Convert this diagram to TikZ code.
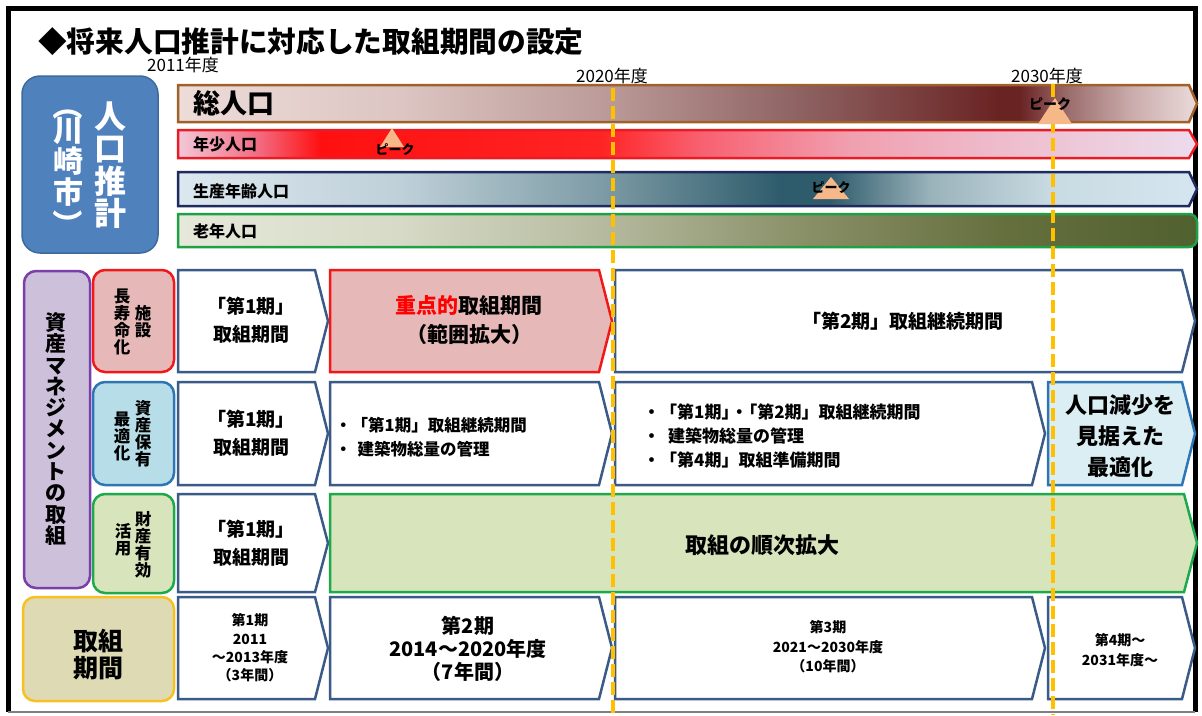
\documentclass[tikz,border=0pt]{standalone}
\usepackage{fontspec}
\setmainfont{Noto Sans CJK JP}
\newcommand{\fz}[2]{\fontsize{#1}{#2}\selectfont}
% colours
\definecolor{popblue}{HTML}{4F81BD}
\definecolor{popblueD}{HTML}{3D6A9E}
\definecolor{purpF}{HTML}{CCC0DA}
\definecolor{purpD}{HTML}{7A3FA8}
\definecolor{redF}{HTML}{E6B9B8}
\definecolor{redD}{HTML}{F01818}
\definecolor{bluF}{HTML}{B7DEE8}
\definecolor{bluD}{HTML}{2E75B6}
\definecolor{bluF2}{HTML}{DAEEF3}
\definecolor{grnF}{HTML}{D7E4BC}
\definecolor{grnD}{HTML}{1DAA4A}
\definecolor{kikanF}{HTML}{DEDBB4}
\definecolor{goldD}{HTML}{F8C020}
\definecolor{navyB}{HTML}{3A5A88}
\definecolor{dashc}{HTML}{FFC000}
\definecolor{hlred}{HTML}{FF0000}
\definecolor{peakF}{HTML}{F7B889}
\definecolor{totD}{HTML}{A0602A}
\definecolor{youD}{HTML}{E81C24}
\definecolor{worD}{HTML}{1F2A5E}
\definecolor{oldD}{HTML}{20A045}
% total population
\definecolor{tA}{HTML}{EDDCD8}
\definecolor{tB}{HTML}{DCC5C2}
\definecolor{tC}{HTML}{BC9C9A}
\definecolor{tD}{HTML}{8E6262}
\definecolor{tE}{HTML}{6A2323}
\definecolor{tF}{HTML}{9E7070}
\definecolor{tG}{HTML}{C9AAAA}
\definecolor{tH}{HTML}{EBDADA}
% young
\definecolor{yA}{HTML}{F2C8D8}
\definecolor{yB}{HTML}{F26A80}
\definecolor{yC}{HTML}{FF1010}
\definecolor{yD}{HTML}{FF2424}
\definecolor{yE}{HTML}{F86070}
\definecolor{yF}{HTML}{F0A0B0}
\definecolor{yG}{HTML}{EEBCCC}
\definecolor{yH}{HTML}{ECDCEC}
% working
\definecolor{wA}{HTML}{DCE8F0}
\definecolor{wB}{HTML}{BFD0D8}
\definecolor{wC}{HTML}{7E9CA6}
\definecolor{wD}{HTML}{2F5C6C}
\definecolor{wE}{HTML}{9AB2BA}
\definecolor{wF}{HTML}{C8DAE2}
\definecolor{wG}{HTML}{D6E6F0}
% old
\definecolor{oA}{HTML}{E6E9DA}
\definecolor{oB}{HTML}{D6DAC6}
\definecolor{oC}{HTML}{B6BBA0}
\definecolor{oD}{HTML}{8A9068}
\definecolor{oE}{HTML}{66703F}
\definecolor{oF}{HTML}{50602E}
\pgfdeclarehorizontalshading{shTot}{100bp}{color(0bp)=(tA); color(25bp)=(tA); color(35.9bp)=(tB); color(45.7bp)=(tC); color(55.5bp)=(tD); color(65.3bp)=(tE); color(66.3bp)=(tE); color(68.8bp)=(tF); color(71.7bp)=(tG); color(75bp)=(tH); color(100bp)=(tH)}
\pgfdeclarehorizontalshading{shYou}{100bp}{color(0bp)=(yA); color(25bp)=(yA); color(29bp)=(yB); color(32bp)=(yC); color(45.7bp)=(yD); color(50.6bp)=(yE); color(58bp)=(yF); color(65.3bp)=(yG); color(75bp)=(yH); color(100bp)=(yH)}
\pgfdeclarehorizontalshading{shWor}{100bp}{color(0bp)=(wA); color(25bp)=(wA); color(35.9bp)=(wB); color(45.7bp)=(wC); color(54.5bp)=(wD); color(57bp)=(wD); color(61.9bp)=(wE); color(67.8bp)=(wF); color(75bp)=(wG); color(100bp)=(wG)}
\pgfdeclarehorizontalshading{shOld}{100bp}{color(0bp)=(oA); color(25bp)=(oA); color(35.9bp)=(oB); color(45.7bp)=(oC); color(55.5bp)=(oD); color(65.3bp)=(oE); color(75bp)=(oF); color(100bp)=(oF)}
% chevron (home plate) shape
\newcommand{\chevron}[6]{\path[#1] (#2,#3) -- ({#4-#6},#3) -- (#4,{(#3+#5)/2}) -- ({#4-#6},#5) -- (#2,#5) -- cycle;}
\newcommand{\popbar}[4]{\path[shade, shading=#1, draw=#2, line width=2.5pt, line join=miter] (178,#3) -- (1189,#3) -- (1197,{(#3+#4)/2}) -- (1189,#4) -- (178,#4) -- cycle;}
\begin{document}
\begin{tikzpicture}[x=1pt,y=-1pt,
  chv/.style={line width=2.5pt, draw=navyB, fill=white, line join=miter},
  lbl/.style={line width=2.5pt, rounded corners=12pt},
  txt/.style={inner sep=0pt, align=center},
  dashln/.style={draw=dashc, line width=4.5pt, dash pattern=on 13pt off 5pt},
  peak/.style={fill=peakF, draw=none}]
\useasboundingbox (0,0) rectangle (1202,715);
\fill[white] (0,0) rectangle (1202,715);
% frame
\draw[line width=5pt, line join=miter] (8,712) -- (8,8) -- (1195,8) -- (1195,712);
\draw[line width=1.5pt, gray] (8,712) -- (1195,712);
% title
\node[anchor=west, inner sep=0pt, font=\bfseries\fz{28.7}{30}] (title) at (38,42) {◆将来人口推計に対応した取組期間の設定};
\node[inner sep=0pt, font=\fz{17}{19}] (y2011) at (183,65) {2011年度};
\node[inner sep=0pt, font=\fz{17}{19}] (y2020) at (612,76) {2020年度};
\node[inner sep=0pt, font=\fz{17}{19}] (y2030) at (1047,76) {2030年度};
% population estimate box
\draw[fill=popblue, draw=popblueD, line width=1.5pt, rounded corners=18pt] (22,76) rectangle (158,253);
\node[txt, text=white, font=\bfseries\fz{32}{32.5}] (jinko) at (110,165) {人\\口\\推\\計};
\node[txt, text=white, font=\bfseries\fz{30}{31}] (kawa) at (68,162) {川\\崎\\市};
\node[txt, text=white, rotate=-90, font=\bfseries\fz{30}{31}] (parA) at (68,105) {（};
\node[txt, text=white, rotate=-90, font=\bfseries\fz{30}{31}] (parB) at (68,224) {）};
% population bars
\popbar{shTot}{totD}{85}{122}
\popbar{shYou}{youD}{130}{158}
\popbar{shWor}{worD}{172}{206}
\path[shade, shading=shOld, draw=oldD, line width=2.5pt] (178,214) -- (1180,214) [rounded corners=8pt] -- (1197,214) -- (1197,247) -- (1180,247) [sharp corners] -- (178,247) -- cycle;
\node[anchor=west, inner sep=0pt, font=\bfseries\fz{27}{29}] (tot) at (193,103) {総人口};
\node[anchor=west, inner sep=0pt, font=\bfseries\fz{16}{18}] (you) at (193,144) {年少人口};
\node[anchor=west, inner sep=0pt, font=\bfseries\fz{16}{18}] (wor) at (193,191) {生産年齢人口};
\node[anchor=west, inner sep=0pt, font=\bfseries\fz{16}{18}] (old) at (193,231) {老年人口};
% left label boxes
\draw[lbl, fill=purpF, draw=purpD] (24,271) rectangle (90,588);
\node[txt, font=\bfseries\fz{21}{21.3}] (shisan) at (56,429) {資\\産\\マ\\ネ\\ジ\\メ\\ン\\ト\\の\\取\\組};
\draw[lbl, fill=redF, draw=redD] (93,270) rectangle (174,372);
\node[txt, font=\bfseries\fz{16.5}{17}] (c1a) at (143,322) {施\\設};
\node[txt, font=\bfseries\fz{16.5}{17}] (c1b) at (122,322) {長\\寿\\命\\化};
\draw[lbl, fill=bluF, draw=bluD] (93,382) rectangle (174,485);
\node[txt, font=\bfseries\fz{16.5}{17}] (c2a) at (143,434) {資\\産\\保\\有};
\node[txt, font=\bfseries\fz{16.5}{17}] (c2b) at (122,436) {最\\適\\化};
\draw[lbl, fill=grnF, draw=grnD] (93,494) rectangle (174,593);
\node[txt, font=\bfseries\fz{16.5}{17}] (c3a) at (143,545) {財\\産\\有\\効};
\node[txt, font=\bfseries\fz{16.5}{17}] (c3b) at (123,540) {活\\用};
\draw[lbl, fill=kikanF, draw=goldD] (23,597) rectangle (174,701);
\node[txt, font=\bfseries\fz{25}{27}] (kikan) at (98,655) {取組\\期間};
% row 1
\chevron{chv}{178}{270}{328}{372}{13}
\chevron{chv, draw=redD, fill=redF}{330}{270}{612}{372}{13}
\chevron{chv}{615}{270}{1195}{372}{13}
\node[txt, font=\bfseries\fz{19}{28}] (r1a) at (251,320) {「第1期」\\取組期間};
\node[txt, font=\bfseries\fz{21}{29}] (r1b) at (469,320) {\textcolor{hlred}{重点的}取組期間\\（範囲拡大）};
\node[txt, font=\bfseries\fz{19}{21}] (r1c) at (903,321) {「第2期」取組継続期間};
% row 2
\chevron{chv}{178}{382}{328}{485}{13}
\chevron{chv}{330}{382}{612}{485}{13}
\chevron{chv}{615}{382}{1045}{485}{13}
\chevron{chv, draw=bluD, fill=bluF2}{1048}{382}{1195}{485}{13}
\node[txt, font=\bfseries\fz{19}{28}] (r2a) at (251,433) {「第1期」\\取組期間};
\node[txt, anchor=west, align=left, font=\bfseries\fz{16.5}{24}] (r2b) at (335,437) {・「第1期」取組継続期間\\・\hspace{6pt}建築物総量の管理};
\node[txt, anchor=west, align=left, font=\bfseries\fz{17}{24}] (r2c) at (643,436) {・「第1期」\hspace{-0.45em}・\hspace{-0.45em}「第2期」取組継続期間\\・\hspace{8pt}建築物総量の管理\\・「第4期」取組準備期間};
\node[txt, font=\bfseries\fz{22}{31}] (r2d) at (1120,436) {人口減少を\\見据えた\\最適化};
% row 3
\chevron{chv}{178}{494}{328}{592}{13}
\chevron{chv, draw=grnD, fill=grnF}{330}{494}{1197}{592}{13}
\node[txt, font=\bfseries\fz{19}{28}] (r3a) at (251,543) {「第1期」\\取組期間};
\node[txt, font=\bfseries\fz{22}{24}] (r3b) at (762,545) {取組の順次拡大};
% row 4
\chevron{chv}{178}{597}{328}{699}{13}
\chevron{chv}{330}{597}{612}{699}{13}
\chevron{chv}{615}{597}{1045}{699}{13}
\chevron{chv}{1048}{597}{1195}{699}{13}
\node[txt, font=\bfseries\fz{14}{18.3}] (r4a) at (250,648) {第1期\\2011\\～2013年度\\（3年間）};
\node[txt, font=\bfseries\fz{20}{23}] (r4b) at (468,649) {第2期\\2014～2020年度\\（7年間）};
\node[txt, font=\bfseries\fz{14}{19.5}] (r4c) at (828,647) {第3期\\2021～2030年度\\（10年間）};
\node[txt, font=\bfseries\fz{14}{20.5}] (r4d) at (1120,650) {第4期～\\2031年度～};
% dashed year lines
\coordinate (d20t) at (613,88);
\coordinate (d20b) at (613,715);
\coordinate (d30t) at (1053,84);
\coordinate (d30b) at (1053,715);
\draw[dashln] (d20t) -- (d20b);
\draw[dashln] (d30t) -- (d30b);
% peaks
\fill[peak] (392,128) -- (380,147) -- (404,147) -- cycle;
\node[inner sep=0pt, font=\bfseries\fz{13}{14}] (pk1) at (395,150) {ピーク};
\fill[peak] (831,177) -- (813,199) -- (849,199) -- cycle;
\node[inner sep=0pt, font=\bfseries\fz{13}{14}] (pk2) at (831,188) {ピーク};
\fill[peak] (1055,98) -- (1038,124) -- (1072,124) -- cycle;
\node[inner sep=0pt, font=\bfseries\fz{14}{15}] (pk3) at (1050,104) {ピーク};
\end{tikzpicture}
\end{document}
